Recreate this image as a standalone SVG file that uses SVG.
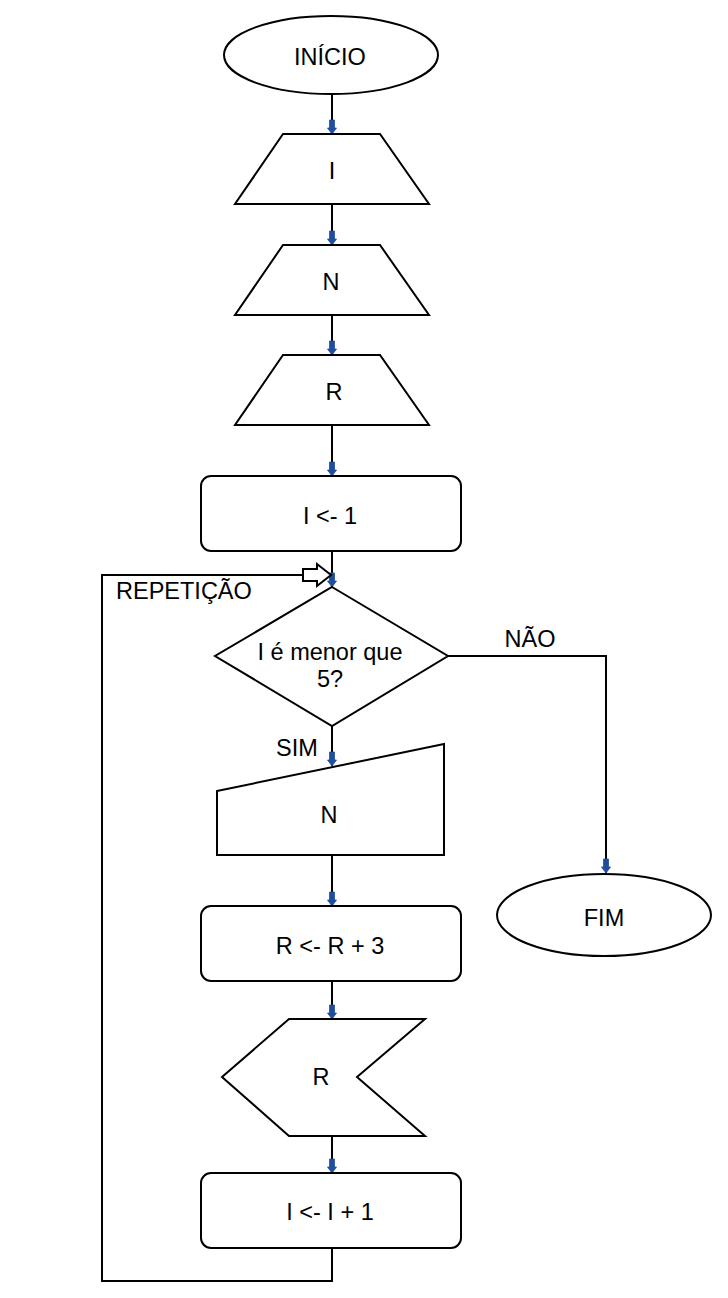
<svg xmlns="http://www.w3.org/2000/svg" width="728" height="1298" viewBox="0 0 728 1298">
<style>
.s{fill:#fff;stroke:#000;stroke-width:2}
.t{font-family:"Liberation Sans",Arial,sans-serif;font-size:23.5px;fill:#000;text-anchor:middle}
.c{fill:none;stroke:#000;stroke-width:2}
.a{marker-end:url(#ah)}
</style>
<defs>
<marker id="ah" viewBox="-15 -6 16 12" refX="0" refY="0" markerWidth="16" markerHeight="12" markerUnits="userSpaceOnUse" orient="auto">
<path d="M-14,-2.5 H-6 V-4.5 L0,0 L-6,4.5 V2.5 H-14 Z" fill="#1f4e9e" stroke="#1f4e9e" stroke-width="0.8"/>
</marker>
</defs>
<rect width="728" height="1298" fill="#fff"/>
<g id="connectors">
<path class="c a" d="M332,94 V134"/>
<path class="c a" d="M332,204 V245"/>
<path class="c a" d="M332,315 V355"/>
<path class="c a" d="M332,425 V476"/>
<path class="c a" d="M332,551 V587"/>
<path class="c a" d="M448,656 H606 V873"/>
<path class="c a" d="M332,726 V766"/>
<path class="c a" d="M332,855 V906"/>
<path class="c a" d="M332,981 V1019"/>
<path class="c a" d="M332,1136 V1173"/>
<path class="c" d="M332,1248 V1281 H102 V575 H303"/>
<polygon points="303,569 317,569 317,564 331,575 317,586 317,581 303,581" fill="#fff" stroke="#000" stroke-width="2"/>
<text class="t" x="116" y="599" style="text-anchor:start">REPETIÇÃO</text>
<text class="t" x="530" y="647">NÃO</text>
<text class="t" x="297" y="756">SIM</text>
</g>
<g id="inicio">
<ellipse class="s" cx="331" cy="55" rx="107" ry="39"/>
<text class="t" x="330" y="65">INÍCIO</text>
</g>
<g id="input-i">
<polygon class="s" points="283,134 380,134 429,204 235,204"/>
<text class="t" x="332" y="179">I</text>
</g>
<g id="input-n">
<polygon class="s" points="283,245 380,245 429,315 235,315"/>
<text class="t" x="331" y="290">N</text>
</g>
<g id="input-r">
<polygon class="s" points="283,355 380,355 429,425 235,425"/>
<text class="t" x="334" y="400">R</text>
</g>
<g id="assign-i">
<rect class="s" x="201" y="476" width="260" height="75" rx="10"/>
<text class="t" x="330" y="524">I &lt;- 1</text>
</g>
<g id="decision">
<polygon class="s" points="332,587 448,656 332,726 215,656"/>
<text class="t" x="330" y="660">I é menor que</text>
<text class="t" x="330" y="687">5?</text>
</g>
<g id="manual-n">
<polygon class="s" points="217,791 444,744 444,855 217,855"/>
<text class="t" x="329" y="823">N</text>
</g>
<g id="assign-r">
<rect class="s" x="201" y="906" width="260" height="75" rx="10"/>
<text class="t" x="330" y="954">R &lt;- R + 3</text>
</g>
<g id="display-r">
<polygon class="s" points="289,1019 425,1019 357,1077 425,1136 289,1136 222,1077"/>
<text class="t" x="321" y="1085">R</text>
</g>
<g id="inc-i">
<rect class="s" x="201" y="1173" width="260" height="75" rx="10"/>
<text class="t" x="330" y="1220">I &lt;- I + 1</text>
</g>
<g id="fim">
<ellipse class="s" cx="604" cy="915" rx="107" ry="41"/>
<text class="t" x="604" y="926">FIM</text>
</g>
</svg>
